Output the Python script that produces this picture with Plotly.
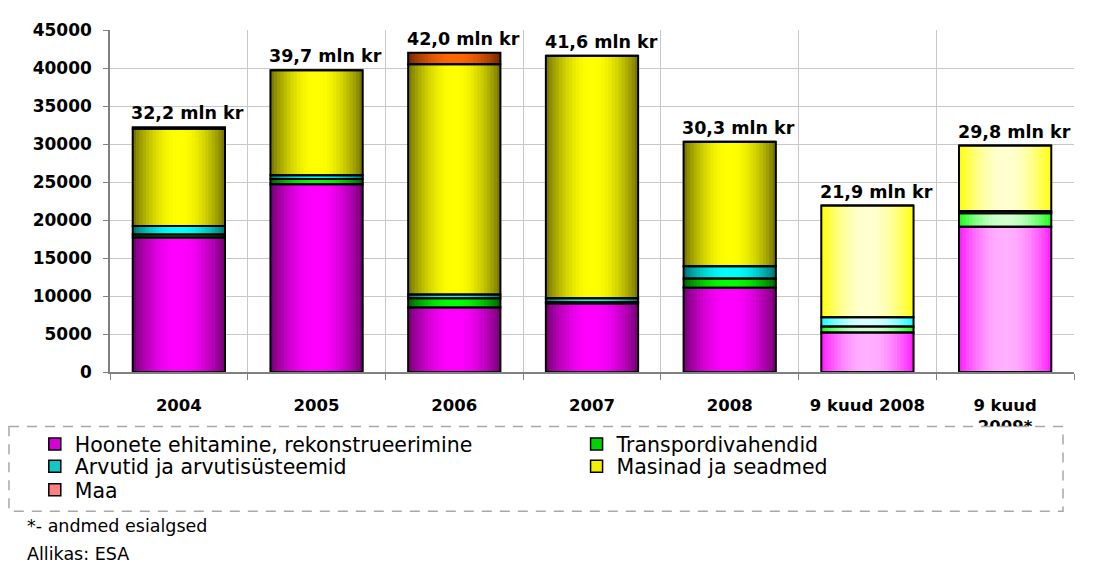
import plotly.graph_objects as go
import numpy as np

# ---------------- data ----------------
categories = ["2004", "2005", "2006", "2007", "2008", "9 kuud 2008", "9 kuud<br>2009*"]
hoonete = [17700, 24700, 8500, 9000, 11100, 5200, 19100]
transport = [400, 700, 1200, 200, 1200, 800, 1800]
arvutid = [1100, 500, 500, 500, 1600, 1200, 300]
masinad = [12800, 13800, 30300, 31900, 16400, 14700, 8600]
maa = [200, 0, 1500, 0, 0, 0, 0]
total_labels = ["32,2 mln kr", "39,7 mln kr", "42,0 mln kr", "41,6 mln kr",
                "30,3 mln kr", "21,9 mln kr", "29,8 mln kr"]
series_names = ["Hoonete ehitamine, rekonstrueerimine", "Transpordivahendid",
                "Arvutid ja arvutisüsteemid", "Masinad ja seadmed", "Maa"]
y_ticks = [0, 5000, 10000, 15000, 20000, 25000, 30000, 35000, 40000, 45000]

# ---------------- styles ----------------
FONT = "DejaVu Sans"
BAR_W = 0.67
K = 14
n_full, n_part = 5, 2
# (edge, center) for full-year bars and for 9-month bars
grad = {
    "Hoonete ehitamine, rekonstrueerimine": (("#7a007a", "#ff00ff"), ("#ff22ff", "#ffb0ff")),
    "Transpordivahendid": (("#006a00", "#00ff00"), ("#22ff22", "#d0ffd0")),
    "Arvutid ja arvutisüsteemid": (("#007878", "#00ffff"), ("#22ffff", "#d8ffff")),
    "Masinad ja seadmed": (("#7a7a00", "#ffff00"), ("#ffff10", "#ffffd0")),
    "Maa": (("#7a2a00", "#ff6600"), ("#ff8060", "#ffc0b0")),
}
legend_colors = {
    "Hoonete ehitamine, rekonstrueerimine": "#d400d4",
    "Transpordivahendid": "#00d400",
    "Arvutid ja arvutisüsteemid": "#10c8c8",
    "Masinad ja seadmed": "#f0f000",
    "Maa": "#ff8080",
}


def hex2rgb(h):
    h = h.lstrip("#")
    return np.array([int(h[i:i + 2], 16) for i in (0, 2, 4)], dtype=float)


def lerp(c1, c2, t):
    c = hex2rgb(c1) * (1 - t) + hex2rgb(c2) * t
    return "rgb(%d,%d,%d)" % tuple(np.round(c).astype(int))


values = [hoonete, transport, arvutid, masinad, maa]
arr = np.array(values, dtype=float)
bases = np.vstack([np.zeros(arr.shape[1]), np.cumsum(arr, axis=0)[:-1]])
totals = arr.sum(axis=0)

fig = go.Figure()

# gradient layers (nested bars, widest = darkest edge, narrowest = bright centre)
for si, name in enumerate(series_names):
    (fe, fc), (pe, pc) = grad[name]
    for k in range(K):
        t = np.sin(0.5 * np.pi * k / (K - 1)) ** 0.9
        cols = [lerp(fe, fc, t)] * n_full + [lerp(pe, pc, t)] * n_part
        fig.add_trace(go.Bar(
            x=categories, y=values[si], base=bases[si],
            width=BAR_W * (1 - k / K),
            marker=dict(color=cols, line=dict(width=0)),
            showlegend=False, hoverinfo="skip",
        ))

# outlines
for si, name in enumerate(series_names):
    fig.add_trace(go.Bar(
        x=categories, y=values[si], base=bases[si], width=BAR_W,
        marker=dict(color="rgba(0,0,0,0)", line=dict(color="black", width=2)),
        showlegend=False, name=name,
    ))

# legend entries (one legend per item, Excel-like layout)
legend_pos = {
    "Hoonete ehitamine, rekonstrueerimine": ("legend", -0.078, -0.2108),
    "Arvutid ja arvutisüsteemid": ("legend2", -0.078, -0.2764),
    "Maa": ("legend3", -0.078, -0.3447),
    "Transpordivahendid": ("legend4", 0.484, -0.2108),
    "Masinad ja seadmed": ("legend5", 0.484, -0.2764),
}
for name in series_names:
    lg = legend_pos[name][0]
    fig.add_trace(go.Bar(
        x=[None], y=[None], name=name, legend=lg,
        marker=dict(color=legend_colors[name], line=dict(color="black", width=1.5)),
    ))

layout_legends = {}
for name, (lg, lx, ly) in legend_pos.items():
    layout_legends[lg] = dict(
        x=lx, y=ly, xanchor="left", yanchor="middle",
        bgcolor="rgba(0,0,0,0)", borderwidth=0,
        font=dict(family=FONT, size=20.5, color="black"),
    )

annotations = []
for i, (tot, lab) in enumerate(zip(totals, total_labels)):
    annotations.append(dict(
        x=i, y=tot, text="<b>%s</b>" % lab, showarrow=False,
        xanchor="center", yanchor="bottom", xshift=9, yshift=2,
        font=dict(family=FONT, size=17.5, color="black"),
    ))
annotations.append(dict(
    xref="paper", yref="paper", x=-0.0882, y=-0.450, xanchor="left", yanchor="middle",
    text="*- andmed esialgsed", showarrow=False,
    font=dict(family=FONT, size=17.5, color="black"),
))
annotations.append(dict(
    xref="paper", yref="paper", x=-0.0882, y=-0.532, xanchor="left", yanchor="middle",
    text="Allikas: ESA", showarrow=False,
    font=dict(family=FONT, size=17.5, color="black"),
))

# page body has an 8px margin: compensate so the plot area lands where intended
fig.update_layout(
    width=1088, height=557,
    margin=dict(l=102, r=22, t=13, b=193),
    paper_bgcolor="white", plot_bgcolor="white",
    barmode="overlay",
    annotations=annotations,
    shapes=[dict(
        type="rect", xref="paper", yref="paper", layer="above",
        x0=-0.1048, x1=0.9886, y0=-0.1595, y1=-0.4074,
        fillcolor="white", line=dict(color="#a8a8a8", width=1.5, dash="10px,8px"),
    )],
    **layout_legends,
)
fig.update_xaxes(
    type="category", categoryorder="array", categoryarray=categories,
    range=[-0.5, 6.5], tickson="boundaries",
    showgrid=True, gridcolor="#c8c8c8", gridwidth=1,
    showline=True, linecolor="#808080", linewidth=1.5,
    ticks="outside", ticklen=6, tickcolor="#808080",
    ticklabelstandoff=17,
    tickfont=dict(family=FONT, size=16.5, color="black", weight="bold"),
)
fig.update_yaxes(
    range=[0, 45000], tickvals=y_ticks, tickformat="d",
    showgrid=True, gridcolor="#c8c8c8", gridwidth=1, zeroline=False,
    showline=True, linecolor="#808080", linewidth=1.5,
    ticks="outside", ticklen=5, tickcolor="#808080",
    ticklabelstandoff=8,
    tickfont=dict(family=FONT, size=17, color="black", weight="bold"),
)

fig.write_html("out.html")
